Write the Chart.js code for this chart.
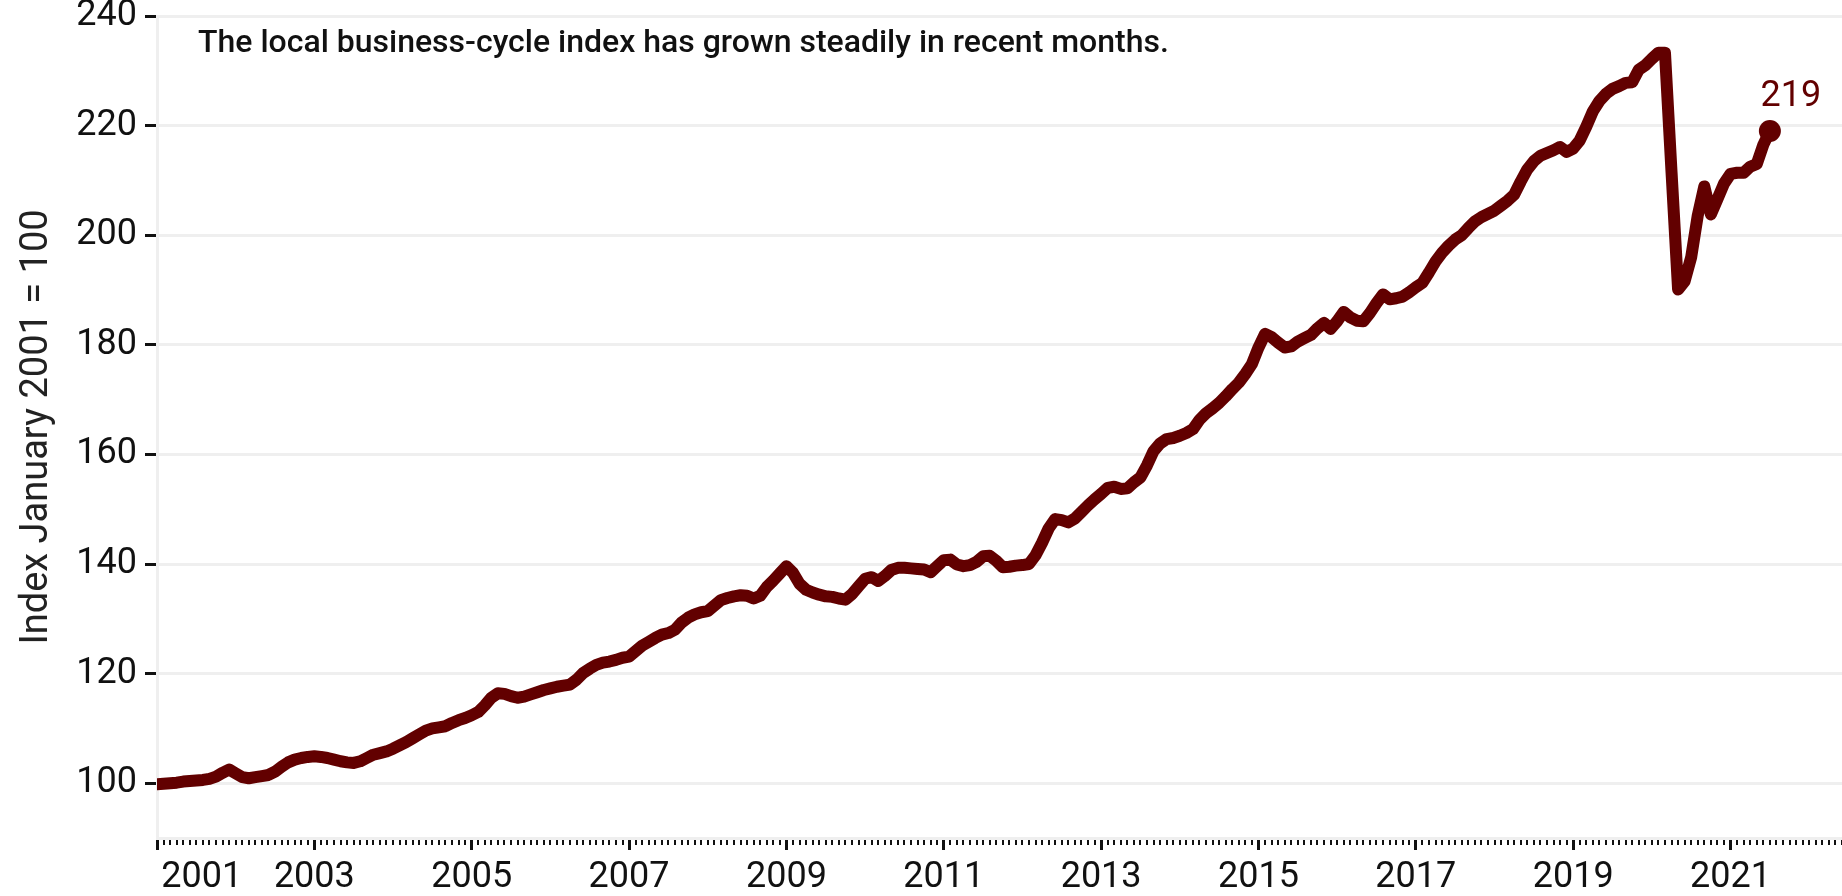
<!DOCTYPE html>
<html lang="en">
  <head>
    <meta charset="UTF-8" />
    <title>Business-cycle index</title>
    <script src="https://cdn.jsdelivr.net/npm/chart.js"></script>
    <style>
      body {
        margin: 0;
        overflow: hidden;
        background-color: #ffffff;
      }
      .chart-box {
        width: 1842px;
        height: 896px;
        position: relative;
      }
    </style>
  </head>
  <body>
    <div class="chart-box">
      <canvas id="indexChart"></canvas>
    </div>

    <script>
      // Monthly index values, January 2001 = 100
      const idx2001 = [99.8, 99.9, 100.0, 100.1, 100.3, 100.4, 100.5, 100.6, 100.8, 101.2, 101.9, 102.5];
      const idx2002 = [101.8, 101.1, 100.9, 101.1, 101.3, 101.5, 102.1, 103.0, 103.8, 104.3, 104.6, 104.8];
      const idx2003 = [104.9, 104.8, 104.6, 104.3, 104.0, 103.8, 103.7, 104.0, 104.6, 105.2, 105.5, 105.8];
      const idx2004 = [106.3, 106.9, 107.5, 108.2, 108.9, 109.6, 110.0, 110.2, 110.4, 111.0, 111.5, 111.9];
      const idx2005 = [112.4, 113.0, 114.2, 115.6, 116.4, 116.3, 115.9, 115.6, 115.8, 116.2, 116.6, 117.0];
      const idx2006 = [117.3, 117.6, 117.8, 118.0, 118.9, 120.1, 120.9, 121.6, 122.0, 122.2, 122.5, 122.9];
      const idx2007 = [123.1, 124.1, 125.1, 125.8, 126.5, 127.1, 127.4, 128.0, 129.3, 130.2, 130.8, 131.2];
      const idx2008 = [131.4, 132.4, 133.4, 133.8, 134.1, 134.3, 134.2, 133.7, 134.2, 135.8, 137.0, 138.3];
      const idx2009 = [139.6, 138.4, 136.4, 135.3, 134.8, 134.4, 134.1, 134.0, 133.7, 133.5, 134.5, 135.9];
      const idx2010 = [137.3, 137.6, 136.9, 137.8, 138.9, 139.3, 139.3, 139.2, 139.1, 139.0, 138.5, 139.6];
      const idx2011 = [140.7, 140.8, 139.9, 139.6, 139.8, 140.4, 141.4, 141.5, 140.6, 139.4, 139.5, 139.7];
      const idx2012 = [139.8, 140.0, 141.6, 143.9, 146.5, 148.2, 148.0, 147.6, 148.3, 149.5, 150.7, 151.8];
      const idx2013 = [152.8, 153.9, 154.1, 153.7, 153.8, 154.9, 155.8, 158.0, 160.6, 162.0, 162.8, 163.0];
      const idx2014 = [163.4, 163.9, 164.6, 166.3, 167.5, 168.4, 169.4, 170.6, 171.9, 173.1, 174.7, 176.5];
      const idx2015 = [179.5, 182.0, 181.4, 180.4, 179.5, 179.7, 180.6, 181.2, 181.8, 183.0, 184.0, 182.9];
      const idx2016 = [184.3, 186.0, 185.0, 184.4, 184.3, 185.8, 187.6, 189.2, 188.3, 188.5, 188.8, 189.6];
      const idx2017 = [190.5, 191.3, 193.2, 195.2, 196.8, 198.1, 199.2, 200.0, 201.3, 202.5, 203.3, 203.9];
      const idx2018 = [204.5, 205.4, 206.3, 207.4, 209.8, 212.0, 213.5, 214.5, 215.0, 215.5, 216.1, 215.2];
      const idx2019 = [215.8, 217.3, 219.8, 222.6, 224.5, 225.8, 226.7, 227.2, 227.8, 227.9, 230.2, 231.0];
      const idx2020 = [232.2, 233.3, 233.3, 211.5, 190.1, 191.6, 196.0, 203.6, 208.9, 203.8, 206.6, 209.4];
      const idx2021 = [211.2, 211.4, 211.4, 212.5, 213.0, 216.5, 219.0];

      const values = [].concat(
        idx2001, idx2002, idx2003, idx2004, idx2005, idx2006, idx2007,
        idx2008, idx2009, idx2010, idx2011, idx2012, idx2013, idx2014,
        idx2015, idx2016, idx2017, idx2018, idx2019, idx2020, idx2021
      );

      // tick labels: every second January starting 2001
      const yearLabels = ["2001", "2003", "2005", "2007", "2009", "2011", "2013", "2015", "2017", "2019", "2021"];
      const yTickValues = [100, 120, 140, 160, 180, 200, 220, 240];

      const note = "The local business-cycle index has grown steadily in recent months.";
      const axisTitle = "Index January 2001 = 100";
      const lineColor = "#620000";

      // month number since January 2001 on the x axis
      const points = values.map((v, i) => ({ x: i, y: v }));

      const extrasPlugin = {
        id: "extras",
        afterDraw(chart) {
          const ctx = chart.ctx;
          const xScale = chart.scales.x;
          const area = chart.chartArea;
          ctx.save();

          // small monthly ticks under the axis
          ctx.fillStyle = "#111";
          xScale.ticks.forEach((tick, i) => {
            if (tick.value % 24 === 0) return;
            const x = xScale.getPixelForTick(i);
            ctx.fillRect(Math.round(x) - 1, area.bottom + 2, 2, 5);
          });

          // note in the upper left of the plot
          ctx.font = "500 32px Roboto";
          ctx.fillStyle = "#111";
          ctx.textAlign = "left";
          ctx.textBaseline = "alphabetic";
          ctx.fillText(note, area.left + 41, area.top + 36);

          // label of the latest value
          const meta = chart.getDatasetMeta(0);
          const last = meta.data[meta.data.length - 1];
          ctx.font = "36px Roboto";
          ctx.fillStyle = lineColor;
          ctx.textAlign = "center";
          ctx.fillText(String(Math.round(values[values.length - 1])), last.x + 21, last.y - 25);

          ctx.restore();
        },
      };

      Chart.defaults.font.family = "Roboto, 'Liberation Sans', sans-serif";
      Chart.defaults.color = "#111";

      new Chart(document.getElementById("indexChart").getContext("2d"), {
        type: "line",
        data: {
          datasets: [
            {
              data: points,
              borderColor: lineColor,
              backgroundColor: lineColor,
              borderWidth: 12,
              borderJoinStyle: "round",
              borderCapStyle: "round",
              tension: 0,
              pointRadius: (ctx) => (ctx.dataIndex === values.length - 1 ? 11 : 0),
              pointHoverRadius: 0,
              pointBorderWidth: 0,
            },
          ],
        },
        options: {
          responsive: true,
          maintainAspectRatio: false,
          animation: false,
          layout: { autoPadding: false, padding: { top: 16, left: 0, right: 0, bottom: 0 } },
          plugins: {
            legend: { display: false },
            tooltip: { enabled: false },
          },
          scales: {
            x: {
              type: "linear",
              min: 0,
              max: 257,
              afterFit: (scale) => {
                scale.height = 58;
                scale.paddingLeft = 0;
                scale.paddingRight = 0;
              },
              ticks: {
                stepSize: 1,
                autoSkip: false,
                maxRotation: 0,
                padding: 6,
                font: { size: 36 },
                color: "#111",
                // first label sits to the right of its tick, as in the source
                callback: (v) => {
                  if (v % 24 !== 0) return "";
                  const label = yearLabels[v / 24];
                  return v === 0 ? "          " + label : label;
                },
              },
              grid: {
                drawOnChartArea: false,
                drawTicks: true,
                tickLength: 12,
                tickWidth: 3,
                tickColor: (ctx) => (ctx.tick && ctx.tick.value % 24 === 0 ? "#111" : "rgba(0,0,0,0)"),
              },
              border: { display: true, color: "#efefef", width: 3 },
            },
            y: {
              min: 90,
              max: 240,
              afterFit: (scale) => {
                scale.width = 157;
                scale.paddingTop = 0;
                scale.paddingBottom = 0;
              },
              afterBuildTicks: (scale) => {
                scale.ticks = yTickValues.map((v) => ({ value: v }));
              },
              ticks: {
                padding: 8,
                font: { size: 36 },
                color: "#111",
              },
              grid: {
                color: "#efefef",
                lineWidth: 3,
                tickLength: 12,
                tickWidth: 3,
                tickColor: "#111",
              },
              border: { display: true, color: "#efefef", width: 3 },
              title: {
                display: true,
                text: axisTitle,
                font: { size: 38 },
                color: "#222",
                padding: { top: 15, bottom: 0 },
              },
            },
          },
        },
        plugins: [extrasPlugin],
      });
    </script>
  </body>
</html>
